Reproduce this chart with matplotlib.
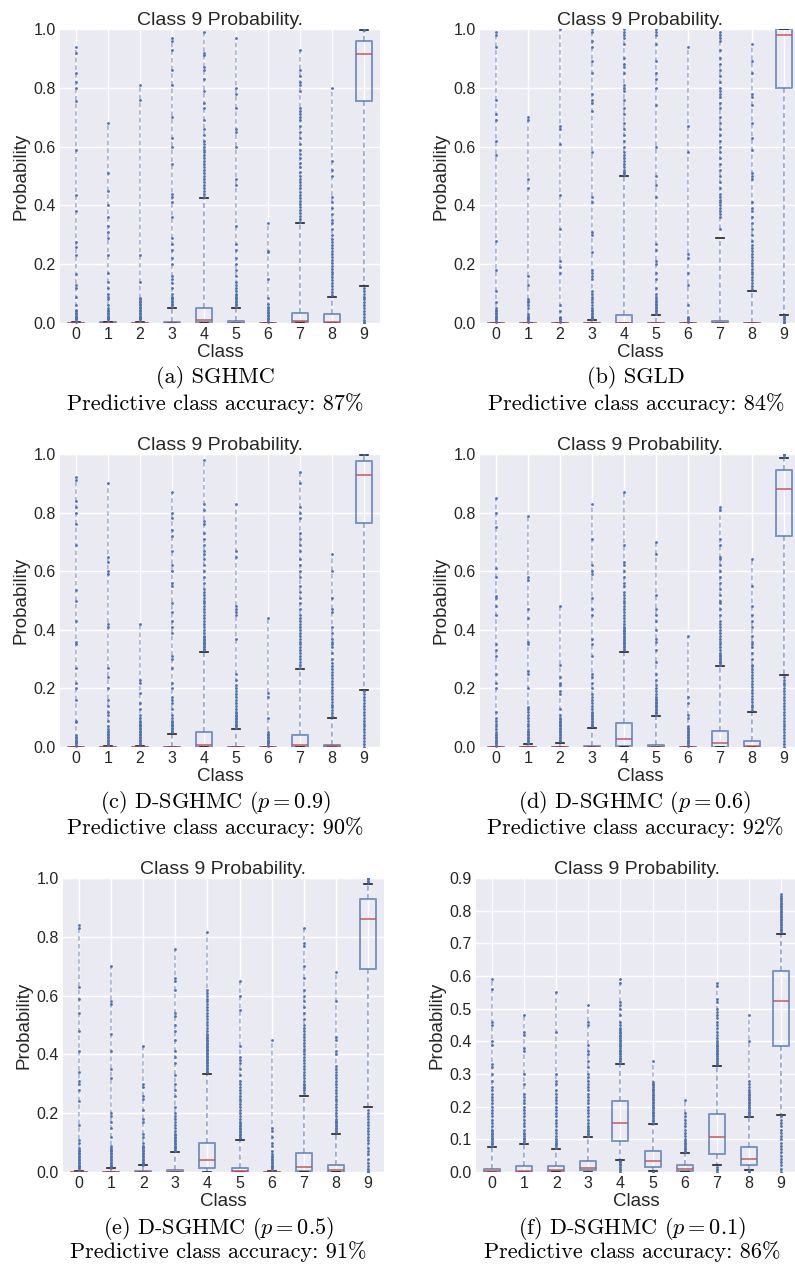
import matplotlib
matplotlib.use('Agg')
import matplotlib.pyplot as plt

# ---------------- data ----------------
classes = list(range(10))
class_labels = [str(c) for c in classes]

captions = [
    ("(a) SGHMC", "Predictive class accuracy: 87%"),
    ("(b) SGLD", "Predictive class accuracy: 84%"),
    ("(c) D-SGHMC ($p = 0.9$)", "Predictive class accuracy: 90%"),
    ("(d) D-SGHMC ($p = 0.6$)", "Predictive class accuracy: 92%"),
    ("(e) D-SGHMC ($p = 0.5$)", "Predictive class accuracy: 91%"),
    ("(f) D-SGHMC ($p = 0.1$)", "Predictive class accuracy: 86%"),
]

# (a) SGHMC
a_q1 = [0, 0, 0, 0, 0.003, 0, 0, 0.003, 0.0, 0.755]
a_med = [0, 0, 0, 0, 0.01, 0.001, 0, 0.007, 0.003, 0.915]
a_q3 = [0.001, 0.003, 0.001, 0.004, 0.05, 0.008, 0.001, 0.035, 0.03, 0.96]
a_lo = [0, 0, 0, 0, 0, 0, 0, 0, 0, 0.125]
a_hi = [0.002, 0.005, 0.004, 0.05, 0.425, 0.05, 0.001, 0.34, 0.09, 0.997]
a_high = [
    [0.004, 0.008, 0.012, 0.016, 0.02, 0.025, 0.03, 0.035, 0.04, 0.045, 0.06, 0.09, 0.12, 0.13, 0.165, 0.23, 0.26, 0.275, 0.38, 0.435, 0.59, 0.755, 0.80, 0.82, 0.85, 0.92, 0.94],
    [0.008, 0.012, 0.016, 0.02, 0.025, 0.03, 0.035, 0.04, 0.045, 0.05, 0.06, 0.08, 0.09, 0.1, 0.12, 0.14, 0.17, 0.23, 0.29, 0.31, 0.33, 0.36, 0.40, 0.45, 0.51, 0.68],
    [0.008, 0.012, 0.016, 0.02, 0.025, 0.03, 0.035, 0.04, 0.045, 0.05, 0.055, 0.06, 0.065, 0.07, 0.075, 0.08, 0.085, 0.14, 0.23, 0.76, 0.81],
    [0.055, 0.06, 0.065, 0.07, 0.075, 0.08, 0.085, 0.09, 0.1, 0.12, 0.135, 0.15, 0.16, 0.2, 0.22, 0.25, 0.27, 0.29, 0.36, 0.41, 0.43, 0.44, 0.54, 0.60, 0.63, 0.70, 0.81, 0.86, 0.93, 0.96, 0.97],
    [0.43, 0.44, 0.45, 0.46, 0.47, 0.48, 0.49, 0.5, 0.51, 0.52, 0.53, 0.54, 0.55, 0.56, 0.57, 0.58, 0.59, 0.6, 0.61, 0.62, 0.64, 0.66, 0.69, 0.73, 0.75, 0.79, 0.83, 0.86, 0.87, 0.91, 0.92, 0.99],
    [0.055, 0.06, 0.065, 0.07, 0.075, 0.08, 0.085, 0.09, 0.095, 0.1, 0.11, 0.12, 0.13, 0.14, 0.16, 0.18, 0.2, 0.22, 0.25, 0.27, 0.33, 0.47, 0.49, 0.60, 0.65, 0.66, 0.73, 0.78, 0.80, 0.97],
    [0.003, 0.008, 0.013, 0.018, 0.023, 0.028, 0.033, 0.038, 0.043, 0.05, 0.055, 0.065, 0.085, 0.15, 0.24, 0.245, 0.34],
    [0.345, 0.355, 0.365, 0.375, 0.385, 0.395, 0.405, 0.415, 0.425, 0.435, 0.445, 0.46, 0.47, 0.48, 0.49, 0.5, 0.515, 0.53, 0.545, 0.56, 0.575, 0.59, 0.61, 0.63, 0.65, 0.67, 0.69, 0.7, 0.71, 0.72, 0.73, 0.79, 0.81, 0.82, 0.84, 0.86, 0.93],
    [0.095, 0.105, 0.115, 0.125, 0.135, 0.145, 0.155, 0.165, 0.175, 0.185, 0.195, 0.205, 0.215, 0.225, 0.235, 0.245, 0.255, 0.265, 0.275, 0.285, 0.3, 0.32, 0.34, 0.35, 0.37, 0.39, 0.41, 0.43, 0.50, 0.52, 0.55, 0.80],
    [0.998, 1.0],
]
a_low = [[], [], [], [], [], [], [], [], [],
         [0.0, 0.005, 0.01, 0.02, 0.03, 0.04, 0.05, 0.06, 0.07, 0.08, 0.09, 0.1, 0.11, 0.12]]

# (b) SGLD
b_q1 = [0, 0, 0, 0, 0, 0, 0, 0, 0, 0.80]
b_med = [0, 0, 0, 0, 0.001, 0, 0, 0.001, 0, 0.978]
b_q3 = [0.001, 0.001, 0.001, 0.001, 0.027, 0.001, 0.001, 0.008, 0.001, 1.0]
b_lo = [0, 0, 0, 0, 0, 0, 0, 0, 0, 0.027]
b_hi = [0.001, 0.001, 0.001, 0.01, 0.50, 0.028, 0.001, 0.29, 0.11, 1.0]
b_high = [
    [0.004, 0.008, 0.012, 0.016, 0.02, 0.025, 0.03, 0.035, 0.04, 0.045, 0.05, 0.07, 0.11, 0.18, 0.28, 0.57, 0.62, 0.69, 0.71, 0.76, 0.94, 0.98, 0.99],
    [0.004, 0.008, 0.012, 0.016, 0.02, 0.025, 0.03, 0.05, 0.06, 0.07, 0.075, 0.08, 0.13, 0.16, 0.46, 0.49, 0.69, 0.70],
    [0.004, 0.008, 0.012, 0.016, 0.02, 0.04, 0.06, 0.17, 0.19, 0.21, 0.32, 0.435, 0.61, 0.66, 0.67, 1.0],
    [0.012, 0.016, 0.02, 0.025, 0.03, 0.035, 0.04, 0.045, 0.05, 0.06, 0.07, 0.08, 0.09, 0.1, 0.11, 0.15, 0.16, 0.17, 0.18, 0.24, 0.30, 0.31, 0.41, 0.43, 0.58, 0.72, 0.75, 0.76, 0.78, 0.85, 0.89, 0.94, 0.96, 0.99, 1.0],
    [0.505, 0.51, 0.515, 0.52, 0.53, 0.54, 0.55, 0.56, 0.57, 0.58, 0.6, 0.62, 0.64, 0.66, 0.68, 0.71, 0.73, 0.76, 0.79, 0.8, 0.81, 0.85, 0.87, 0.88, 0.9, 0.95, 0.97, 0.98, 0.99, 1.0],
    [0.03, 0.035, 0.04, 0.045, 0.05, 0.055, 0.06, 0.065, 0.07, 0.075, 0.08, 0.09, 0.1, 0.12, 0.15, 0.17, 0.2, 0.21, 0.25, 0.27, 0.43, 0.47, 0.5, 0.6, 0.74, 0.8, 0.83, 0.85, 0.89, 0.95, 0.98, 0.99, 1.0],
    [0.004, 0.008, 0.012, 0.016, 0.02, 0.06, 0.13, 0.17, 0.22, 0.235, 0.58, 0.67, 0.94],
    [0.32, 0.36, 0.37, 0.38, 0.39, 0.4, 0.41, 0.42, 0.43, 0.44, 0.46, 0.48, 0.5, 0.52, 0.54, 0.56, 0.58, 0.6, 0.62, 0.64, 0.66, 0.68, 0.7, 0.73, 0.75, 0.77, 0.78, 0.79, 0.8, 0.82, 0.84, 0.86, 0.88, 0.9, 0.93, 0.96, 0.97, 0.98, 0.99],
    [0.115, 0.125, 0.135, 0.145, 0.155, 0.165, 0.175, 0.185, 0.195, 0.205, 0.215, 0.225, 0.235, 0.245, 0.255, 0.265, 0.28, 0.3, 0.32, 0.34, 0.36, 0.38, 0.39, 0.41, 0.49, 0.5, 0.51, 0.59, 0.63, 0.68, 0.74, 0.77, 0.78, 0.85, 0.89, 0.95],
    [],
]
b_low = [[], [], [], [], [], [], [], [], [],
         [0.0, 0.004, 0.008, 0.012, 0.016, 0.02, 0.024]]

# (c) D-SGHMC p=0.9
c_q1 = [0, 0, 0, 0, 0.001, 0, 0, 0, 0, 0.765]
c_med = [0, 0, 0, 0, 0.008, 0, 0, 0.008, 0.002, 0.93]
c_q3 = [0.001, 0.001, 0.001, 0.001, 0.05, 0.001, 0.001, 0.04, 0.008, 0.977]
c_lo = [0, 0, 0, 0, 0, 0, 0, 0, 0, 0.195]
c_hi = [0.001, 0.002, 0.005, 0.045, 0.325, 0.06, 0.001, 0.265, 0.1, 0.998]
c_high = [
    [0.004, 0.008, 0.012, 0.016, 0.02, 0.025, 0.03, 0.035, 0.04, 0.085, 0.09, 0.16, 0.2, 0.22, 0.27, 0.35, 0.36, 0.43, 0.5, 0.535, 0.69, 0.76, 0.8, 0.82, 0.84, 0.91, 0.92],
    [0.006, 0.01, 0.015, 0.02, 0.025, 0.03, 0.035, 0.04, 0.045, 0.05, 0.055, 0.06, 0.07, 0.09, 0.11, 0.12, 0.14, 0.16, 0.2, 0.24, 0.27, 0.41, 0.42, 0.59, 0.6, 0.63, 0.65, 0.9],
    [0.01, 0.015, 0.02, 0.025, 0.03, 0.035, 0.04, 0.045, 0.05, 0.055, 0.06, 0.065, 0.07, 0.075, 0.08, 0.085, 0.09, 0.1, 0.11, 0.13, 0.15, 0.185, 0.22, 0.23, 0.42],
    [0.05, 0.055, 0.06, 0.065, 0.07, 0.075, 0.08, 0.085, 0.09, 0.1, 0.11, 0.13, 0.15, 0.16, 0.17, 0.2, 0.22, 0.27, 0.3, 0.31, 0.39, 0.41, 0.43, 0.46, 0.49, 0.55, 0.56, 0.6, 0.62, 0.67, 0.72, 0.74, 0.78, 0.8, 0.87],
    [0.33, 0.335, 0.34, 0.345, 0.35, 0.355, 0.36, 0.365, 0.37, 0.375, 0.38, 0.39, 0.4, 0.41, 0.42, 0.43, 0.44, 0.45, 0.46, 0.47, 0.48, 0.49, 0.5, 0.51, 0.52, 0.53, 0.54, 0.56, 0.58, 0.6, 0.62, 0.64, 0.66, 0.67, 0.69, 0.71, 0.73, 0.76, 0.77, 0.81, 0.83, 0.98],
    [0.065, 0.07, 0.075, 0.08, 0.085, 0.09, 0.095, 0.1, 0.105, 0.11, 0.115, 0.12, 0.13, 0.14, 0.15, 0.16, 0.17, 0.18, 0.19, 0.2, 0.21, 0.23, 0.25, 0.37, 0.45, 0.46, 0.47, 0.48, 0.65, 0.67, 0.83],
    [0.004, 0.008, 0.012, 0.016, 0.02, 0.025, 0.03, 0.035, 0.04, 0.045, 0.05, 0.1, 0.17, 0.185, 0.44],
    [0.27, 0.28, 0.29, 0.3, 0.31, 0.32, 0.33, 0.34, 0.35, 0.36, 0.37, 0.38, 0.39, 0.4, 0.41, 0.42, 0.43, 0.44, 0.45, 0.47, 0.49, 0.51, 0.53, 0.55, 0.58, 0.6, 0.62, 0.64, 0.67, 0.69, 0.71, 0.73, 0.78, 0.8, 0.82, 0.9, 0.94],
    [0.105, 0.115, 0.125, 0.135, 0.145, 0.155, 0.165, 0.175, 0.185, 0.195, 0.205, 0.215, 0.225, 0.235, 0.245, 0.255, 0.265, 0.275, 0.285, 0.3, 0.32, 0.34, 0.35, 0.36, 0.37, 0.39, 0.41, 0.46, 0.47, 0.51, 0.6, 0.66],
    [1.0],
]
c_low = [[], [], [], [], [], [], [], [], [],
         [0.0, 0.01, 0.02, 0.03, 0.04, 0.05, 0.06, 0.07, 0.08, 0.09, 0.1, 0.11, 0.12, 0.13, 0.14, 0.15, 0.16, 0.17, 0.18, 0.19]]

# (d) D-SGHMC p=0.6
d_q1 = [0, 0, 0, 0, 0.005, 0, 0, 0.001, 0, 0.72]
d_med = [0, 0, 0, 0, 0.026, 0, 0, 0.013, 0.003, 0.882]
d_q3 = [0.001, 0.001, 0.001, 0.003, 0.082, 0.008, 0.001, 0.056, 0.02, 0.945]
d_lo = [0, 0, 0, 0, 0, 0, 0, 0, 0, 0.245]
d_hi = [0.001, 0.01, 0.015, 0.065, 0.325, 0.105, 0.001, 0.275, 0.12, 0.985]
d_high = [
    [0.004, 0.008, 0.012, 0.016, 0.02, 0.025, 0.03, 0.035, 0.04, 0.045, 0.05, 0.06, 0.07, 0.08, 0.09, 0.1, 0.12, 0.2, 0.22, 0.25, 0.31, 0.33, 0.35, 0.45, 0.48, 0.51, 0.515, 0.58, 0.61, 0.75, 0.8, 0.85],
    [0.015, 0.02, 0.025, 0.03, 0.035, 0.04, 0.045, 0.05, 0.055, 0.06, 0.07, 0.08, 0.09, 0.1, 0.11, 0.12, 0.13, 0.135, 0.2, 0.25, 0.26, 0.35, 0.36, 0.44, 0.47, 0.57, 0.58, 0.79],
    [0.02, 0.025, 0.03, 0.035, 0.04, 0.045, 0.05, 0.055, 0.06, 0.065, 0.07, 0.075, 0.08, 0.085, 0.09, 0.095, 0.1, 0.11, 0.13, 0.18, 0.19, 0.21, 0.22, 0.24, 0.28, 0.48],
    [0.07, 0.075, 0.08, 0.085, 0.09, 0.095, 0.1, 0.105, 0.11, 0.115, 0.12, 0.13, 0.14, 0.15, 0.16, 0.17, 0.18, 0.2, 0.22, 0.24, 0.25, 0.31, 0.35, 0.37, 0.45, 0.47, 0.51, 0.59, 0.6, 0.62, 0.71, 0.83],
    [0.33, 0.335, 0.34, 0.345, 0.35, 0.355, 0.36, 0.365, 0.37, 0.375, 0.38, 0.385, 0.39, 0.395, 0.4, 0.405, 0.41, 0.42, 0.43, 0.44, 0.45, 0.46, 0.47, 0.48, 0.49, 0.5, 0.51, 0.52, 0.53, 0.55, 0.56, 0.58, 0.6, 0.62, 0.63, 0.69, 0.87],
    [0.11, 0.115, 0.12, 0.125, 0.13, 0.135, 0.14, 0.145, 0.15, 0.155, 0.16, 0.165, 0.17, 0.18, 0.19, 0.2, 0.21, 0.23, 0.25, 0.29, 0.33, 0.36, 0.37, 0.4, 0.43, 0.45, 0.47, 0.52, 0.66, 0.7],
    [0.004, 0.008, 0.012, 0.016, 0.02, 0.025, 0.03, 0.035, 0.04, 0.045, 0.05, 0.055, 0.06, 0.065, 0.07, 0.1, 0.11, 0.15, 0.17, 0.38],
    [0.28, 0.285, 0.29, 0.295, 0.3, 0.305, 0.31, 0.315, 0.32, 0.33, 0.34, 0.35, 0.36, 0.37, 0.38, 0.39, 0.4, 0.41, 0.42, 0.43, 0.45, 0.47, 0.49, 0.5, 0.52, 0.54, 0.56, 0.58, 0.6, 0.62, 0.64, 0.65, 0.69, 0.71, 0.81, 0.82],
    [0.125, 0.135, 0.145, 0.155, 0.165, 0.175, 0.185, 0.195, 0.205, 0.215, 0.225, 0.235, 0.245, 0.255, 0.265, 0.275, 0.28, 0.3, 0.32, 0.34, 0.35, 0.36, 0.38, 0.41, 0.43, 0.45, 0.48, 0.55, 0.64],
    [0.99, 0.995, 1.0],
]
d_low = [[], [], [], [], [], [], [], [], [],
         [0.0, 0.01, 0.02, 0.03, 0.04, 0.05, 0.06, 0.07, 0.08, 0.09, 0.1, 0.11, 0.12, 0.13, 0.14, 0.15, 0.16, 0.17, 0.18, 0.19, 0.2, 0.21, 0.22, 0.23, 0.24]]

# (e) D-SGHMC p=0.5
e_q1 = [0, 0, 0, 0, 0.012, 0, 0, 0.002, 0, 0.69]
e_med = [0, 0, 0, 0.001, 0.04, 0.002, 0, 0.018, 0.006, 0.86]
e_q3 = [0.001, 0.001, 0.002, 0.006, 0.097, 0.012, 0.001, 0.063, 0.025, 0.93]
e_lo = [0, 0, 0, 0, 0, 0, 0, 0, 0, 0.22]
e_hi = [0.005, 0.012, 0.023, 0.068, 0.335, 0.11, 0.004, 0.26, 0.13, 0.98]
e_high = [
    [0.008, 0.012, 0.016, 0.02, 0.025, 0.03, 0.035, 0.04, 0.045, 0.05, 0.055, 0.06, 0.065, 0.07, 0.075, 0.08, 0.1, 0.11, 0.16, 0.24, 0.28, 0.3, 0.31, 0.34, 0.41, 0.48, 0.54, 0.59, 0.63, 0.83, 0.84],
    [0.015, 0.02, 0.025, 0.03, 0.035, 0.04, 0.045, 0.05, 0.055, 0.06, 0.065, 0.07, 0.075, 0.08, 0.09, 0.12, 0.15, 0.17, 0.19, 0.2, 0.32, 0.35, 0.41, 0.47, 0.57, 0.58, 0.7],
    [0.025, 0.03, 0.035, 0.04, 0.045, 0.05, 0.055, 0.06, 0.065, 0.07, 0.075, 0.08, 0.085, 0.09, 0.1, 0.12, 0.13, 0.17, 0.18, 0.21, 0.25, 0.26, 0.29, 0.3, 0.43],
    [0.07, 0.075, 0.08, 0.085, 0.09, 0.095, 0.1, 0.105, 0.11, 0.115, 0.12, 0.125, 0.13, 0.14, 0.15, 0.16, 0.17, 0.18, 0.19, 0.2, 0.22, 0.26, 0.28, 0.3, 0.33, 0.37, 0.39, 0.41, 0.45, 0.48, 0.5, 0.53, 0.54, 0.62, 0.65, 0.66, 0.76],
    [0.34, 0.345, 0.35, 0.355, 0.36, 0.365, 0.37, 0.375, 0.38, 0.385, 0.39, 0.395, 0.4, 0.405, 0.41, 0.415, 0.42, 0.425, 0.43, 0.435, 0.44, 0.445, 0.45, 0.455, 0.46, 0.465, 0.47, 0.48, 0.49, 0.5, 0.51, 0.52, 0.53, 0.54, 0.55, 0.56, 0.57, 0.58, 0.59, 0.6, 0.61, 0.62, 0.815],
    [0.115, 0.12, 0.125, 0.13, 0.135, 0.14, 0.145, 0.15, 0.155, 0.16, 0.165, 0.17, 0.18, 0.19, 0.2, 0.21, 0.22, 0.23, 0.24, 0.25, 0.26, 0.27, 0.28, 0.29, 0.3, 0.31, 0.33, 0.35, 0.37, 0.38, 0.39, 0.43, 0.55, 0.6, 0.65],
    [0.008, 0.012, 0.016, 0.02, 0.025, 0.03, 0.035, 0.04, 0.045, 0.05, 0.055, 0.06, 0.07, 0.09, 0.1, 0.12, 0.14, 0.15, 0.45],
    [0.27, 0.28, 0.285, 0.29, 0.295, 0.3, 0.31, 0.32, 0.33, 0.34, 0.35, 0.36, 0.37, 0.38, 0.39, 0.4, 0.41, 0.42, 0.43, 0.44, 0.45, 0.46, 0.47, 0.48, 0.49, 0.5, 0.52, 0.54, 0.56, 0.58, 0.6, 0.62, 0.66, 0.7, 0.77, 0.78, 0.83],
    [0.135, 0.14, 0.145, 0.15, 0.155, 0.16, 0.165, 0.17, 0.175, 0.18, 0.19, 0.2, 0.21, 0.22, 0.23, 0.24, 0.25, 0.26, 0.27, 0.28, 0.29, 0.3, 0.31, 0.32, 0.33, 0.34, 0.35, 0.36, 0.4, 0.41, 0.45, 0.46, 0.58, 0.68],
    [0.985, 0.99, 0.995, 1.0],
]
e_low = [[], [], [], [], [], [], [], [], [],
         [0.0, 0.005, 0.01, 0.02, 0.03, 0.045, 0.06, 0.07, 0.08, 0.1, 0.11, 0.12, 0.13, 0.14, 0.15, 0.16, 0.17, 0.18, 0.19, 0.2, 0.21]]

# (f) D-SGHMC p=0.1
f_q1 = [0, 0, 0.002, 0.005, 0.095, 0.015, 0.003, 0.056, 0.02, 0.387]
f_med = [0.003, 0.003, 0.007, 0.013, 0.151, 0.033, 0.008, 0.107, 0.039, 0.522]
f_q3 = [0.008, 0.017, 0.017, 0.035, 0.216, 0.064, 0.02, 0.177, 0.076, 0.615]
f_lo = [0, 0, 0, 0, 0.038, 0.002, 0, 0.02, 0.007, 0.175]
f_hi = [0.078, 0.085, 0.07, 0.108, 0.332, 0.148, 0.058, 0.325, 0.167, 0.73]
f_high = [
    [0.08, 0.085, 0.09, 0.095, 0.1, 0.105, 0.11, 0.115, 0.12, 0.125, 0.13, 0.14, 0.15, 0.16, 0.17, 0.18, 0.19, 0.2, 0.21, 0.22, 0.23, 0.24, 0.25, 0.26, 0.28, 0.3, 0.32, 0.33, 0.39, 0.4, 0.45, 0.46, 0.56, 0.59],
    [0.09, 0.095, 0.1, 0.105, 0.11, 0.115, 0.12, 0.13, 0.14, 0.15, 0.16, 0.17, 0.18, 0.19, 0.2, 0.21, 0.22, 0.23, 0.24, 0.27, 0.3, 0.37, 0.38, 0.42, 0.43, 0.48],
    [0.075, 0.08, 0.085, 0.09, 0.095, 0.1, 0.11, 0.12, 0.13, 0.14, 0.15, 0.16, 0.17, 0.18, 0.19, 0.2, 0.21, 0.22, 0.23, 0.24, 0.25, 0.27, 0.28, 0.3, 0.43, 0.55],
    [0.11, 0.115, 0.12, 0.125, 0.13, 0.135, 0.14, 0.15, 0.16, 0.17, 0.18, 0.19, 0.2, 0.21, 0.22, 0.23, 0.24, 0.25, 0.26, 0.27, 0.28, 0.29, 0.3, 0.32, 0.34, 0.36, 0.37, 0.39, 0.45, 0.46, 0.51],
    [0.335, 0.34, 0.345, 0.35, 0.355, 0.36, 0.365, 0.37, 0.375, 0.38, 0.385, 0.39, 0.395, 0.4, 0.405, 0.41, 0.415, 0.42, 0.425, 0.43, 0.435, 0.44, 0.45, 0.46, 0.48, 0.5, 0.51, 0.52, 0.58, 0.59],
    [0.15, 0.155, 0.16, 0.165, 0.17, 0.175, 0.18, 0.185, 0.19, 0.195, 0.2, 0.205, 0.21, 0.215, 0.22, 0.225, 0.23, 0.235, 0.24, 0.245, 0.25, 0.255, 0.26, 0.265, 0.27, 0.275, 0.34],
    [0.06, 0.065, 0.07, 0.075, 0.08, 0.085, 0.09, 0.095, 0.1, 0.11, 0.12, 0.13, 0.14, 0.15, 0.16, 0.17, 0.18, 0.22],
    [0.33, 0.335, 0.34, 0.345, 0.35, 0.355, 0.36, 0.365, 0.37, 0.375, 0.38, 0.385, 0.39, 0.395, 0.4, 0.41, 0.42, 0.43, 0.44, 0.45, 0.46, 0.47, 0.48, 0.49, 0.5, 0.52, 0.53, 0.57, 0.58],
    [0.17, 0.175, 0.18, 0.185, 0.19, 0.195, 0.2, 0.205, 0.21, 0.215, 0.22, 0.225, 0.23, 0.235, 0.24, 0.245, 0.25, 0.26, 0.27, 0.28, 0.4, 0.48],
    [0.735, 0.74, 0.745, 0.75, 0.755, 0.76, 0.765, 0.77, 0.775, 0.78, 0.785, 0.79, 0.795, 0.8, 0.805, 0.81, 0.815, 0.82, 0.825, 0.83, 0.835, 0.84, 0.845, 0.85],
]
f_low = [[], [], [], [],
         [0.0, 0.005, 0.01, 0.015, 0.02, 0.025, 0.03, 0.035],
         [0.0],
         [],
         [0.0, 0.005, 0.01, 0.015],
         [0.0, 0.003, 0.006],
         [0.0, 0.01, 0.02, 0.03, 0.04, 0.05, 0.06, 0.07, 0.08, 0.09, 0.1, 0.11, 0.12, 0.13, 0.14, 0.15, 0.16, 0.17]]

ticks_10 = [0.0, 0.2, 0.4, 0.6, 0.8, 1.0]
ticks_09 = [0.0, 0.1, 0.2, 0.3, 0.4, 0.5, 0.6, 0.7, 0.8, 0.9]

# ---------------- style ----------------
plt.rcParams.update({
    'font.family': ['Liberation Sans', 'DejaVu Sans'],
    'axes.facecolor': '#EAEAF2',
    'axes.edgecolor': 'white',
    'axes.linewidth': 0,
    'axes.grid': True,
    'axes.axisbelow': True,
    'grid.color': 'white',
    'grid.linewidth': 1.0,
    'xtick.major.size': 0,
    'ytick.major.size': 0,
    'text.color': '#262626',
    'axes.labelcolor': '#262626',
    'xtick.color': '#262626',
    'ytick.color': '#262626',
    'mathtext.fontset': 'cm',
})

blue = '#4C72B0'
red = '#C44E52'
dash = (0, (3, 2))

W, H = 795, 1268
fig = plt.figure(figsize=(W / 100, H / 100), dpi=100)


def add_px_axes(left, top, right, bottom):
    return fig.add_axes([left / W, 1 - bottom / H, (right - left) / W, (bottom - top) / H])


def draw(ax, q1, med, q3, lo, hi, high, low, yticks):
    stats = [dict(q1=q1[i], med=med[i], q3=q3[i], whislo=lo[i], whishi=hi[i], fliers=[])
             for i in classes]
    ax.bxp(stats, positions=classes, widths=0.5, showfliers=False,
           boxprops=dict(color=blue, alpha=0.7, linewidth=1.4),
           whiskerprops=dict(color=blue, alpha=0.6, linewidth=1.2, linestyle=dash),
           capprops=dict(color='#222222', linewidth=1.2),
           medianprops=dict(color=red, alpha=0.85, linewidth=1.2))
    for i in classes:
        for fl in (high[i], low[i]):
            if len(fl) == 0:
                continue
            vals = sorted(fl)
            ax.plot([i] * len(vals), vals, linestyle=dash, color=blue, alpha=0.55, linewidth=1.1)
            ax.plot([i] * len(vals), vals, linestyle='none', marker='o', markersize=2.0,
                    markeredgewidth=0, color=blue)
    ax.set_xlim(-0.5, 9.5)
    ax.set_ylim(yticks[0], yticks[-1])
    ax.set_xticks(classes)
    ax.set_xticklabels(class_labels)
    ax.set_yticks(yticks)
    ax.set_yticklabels(['%.1f' % t for t in yticks])
    ax.tick_params(labelsize=11.5, pad=3)
    for s in ax.spines.values():
        s.set_visible(False)
    ax.set_title('Class 9 Probability.', fontsize=14, pad=3)
    ax.set_xlabel('Class', fontsize=13.5, labelpad=1)
    ax.set_ylabel('Probability', fontsize=13.5, labelpad=3)


panels = [
    ((60, 29, 380, 323), (a_q1, a_med, a_q3, a_lo, a_hi, a_high, a_low), ticks_10, 215, 378, 404),
    ((480, 29, 800, 323), (b_q1, b_med, b_q3, b_lo, b_hi, b_high, b_low), ticks_10, 636, 378, 404),
    ((60, 454, 380, 747), (c_q1, c_med, c_q3, c_lo, c_hi, c_high, c_low), ticks_10, 215, 803, 828),
    ((480, 454, 800, 747), (d_q1, d_med, d_q3, d_lo, d_hi, d_high, d_low), ticks_10, 635, 803, 828),
    ((63, 878, 384, 1172), (e_q1, e_med, e_q3, e_lo, e_hi, e_high, e_low), ticks_10, 218, 1228, 1252),
    ((476, 878, 797, 1172), (f_q1, f_med, f_q3, f_lo, f_hi, f_high, f_low), ticks_09, 632, 1228, 1252),
]

for k, (box, data, yt, cx, y1, y2) in enumerate(panels):
    ax = add_px_axes(*box)
    draw(ax, *data, yt)
    fig.text(cx / W, 1 - y1 / H, captions[k][0], ha='center', va='center',
             fontsize=16, family='cmr10', color='black')
    fig.text(cx / W, 1 - y2 / H, captions[k][1], ha='center', va='center',
             fontsize=16, family='cmr10', color='black')

fig.savefig('out.png', dpi=100)
